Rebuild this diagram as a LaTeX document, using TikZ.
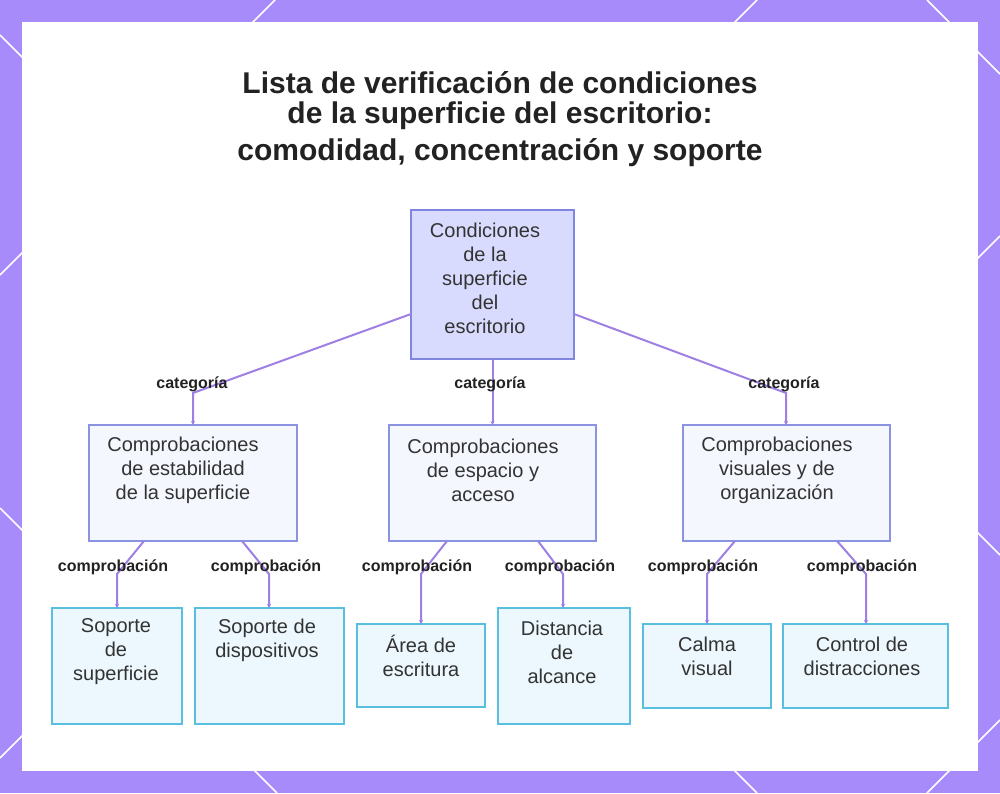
\documentclass[tikz,border=0pt]{standalone}
\usepackage{fontspec}
\setmainfont{Liberation Sans}
\usetikzlibrary{arrows.meta}
\definecolor{frame}{RGB}{167,139,250}
\definecolor{edgec}{RGB}{158,128,228}
\definecolor{rootfill}{RGB}{217,219,254}
\definecolor{rootdraw}{RGB}{128,134,224}
\definecolor{midfill}{RGB}{245,247,255}
\definecolor{middraw}{RGB}{140,146,226}
\definecolor{leaffill}{RGB}{236,248,254}
\definecolor{leafdraw}{RGB}{88,192,222}
\definecolor{txt}{RGB}{51,51,51}
\definecolor{ttl}{RGB}{34,34,34}
\tikzset{
  rootbox/.style={draw=rootdraw,fill=rootfill,line width=1.2pt},
  midbox/.style={draw=middraw,fill=midfill,line width=1.2pt},
  leafbox/.style={draw=leafdraw,fill=leaffill,line width=1.2pt},
  boxtxt/.style={text=txt,font=\fontsize{15pt}{18pt}\selectfont,align=center,inner sep=0pt},
  lbl/.style={text=ttl,font=\bfseries\fontsize{12pt}{14pt}\selectfont,inner sep=1pt},
  ttlline/.style={text=ttl,font=\bfseries\fontsize{22.5pt}{27pt}\selectfont,inner sep=0pt},
  conn/.style={draw=edgec,line width=1.5pt,-{Stealth[length=3pt,width=3pt]}},
  deco/.style={draw=white,line width=1.3pt}
}
\begin{document}
\begin{tikzpicture}[x=0.75pt,y=-0.75pt]
\useasboundingbox (0,0) rectangle (1000,793);
\fill[frame] (0,0) rectangle (1000,793);
% decorative lines in frame
\draw[deco] (0,35) -- (30,65);
\draw[deco] (0,275) -- (30,245);
\draw[deco] (0,508) -- (30,538);
\draw[deco] (0,758) -- (30,728);
\draw[deco] (275,0) -- (245,30);
\draw[deco] (757,0) -- (727,30);
\draw[deco] (927,0) -- (957,30);
\draw[deco] (1000,74) -- (970,44);
\draw[deco] (1000,236) -- (970,266);
\draw[deco] (1000,555) -- (970,525);
\draw[deco] (1000,720) -- (970,750);
\draw[deco] (277,793) -- (247,763);
\draw[deco] (757,793) -- (727,763);
\draw[deco] (927,793) -- (957,763);
\fill[white] (22,22) rectangle (978,771);

% title
\node[ttlline] (t1) at (500,83) {Lista de verificación de condiciones};
\node[ttlline] (t2) at (500,116) {de la superficie del escritorio:};
\node[ttlline] (t3) at (500,153) {comodidad, concentración y soporte};

% boxes
\draw[rootbox] (411,210) rectangle (574,359);
\node[minimum width=163*0.75pt,minimum height=149*0.75pt,inner sep=0pt] (root) at (492.5,284.5) {};
\node[boxtxt] (roottxt) at (485,278) {Condiciones\\de la\\superficie\\del\\escritorio};

\draw[midbox] (89,425) rectangle (297,541);
\node[minimum width=208*0.75pt,minimum height=116*0.75pt,inner sep=0pt] (m1) at (193,483) {};
\node[boxtxt] (m1t) at (183,470) {Comprobaciones\\de estabilidad\\de la superficie};

\draw[midbox] (389,425) rectangle (596,541);
\node[minimum width=207*0.75pt,minimum height=116*0.75pt,inner sep=0pt] (m2) at (492.5,483) {};
\node[boxtxt] (m2t) at (483,470) {Comprobaciones\\de espacio y\\acceso};

\draw[midbox] (683,425) rectangle (890,541);
\node[minimum width=207*0.75pt,minimum height=116*0.75pt,inner sep=0pt] (m3) at (786.5,483) {};
\node[boxtxt] (m3t) at (777,470) {Comprobaciones\\visuales y de\\organización};

\draw[leafbox] (52,608) rectangle (182,724);
\node[boxtxt] (l1) at (116,652) {Soporte\\de\\superficie};
\draw[leafbox] (195,608) rectangle (344,724);
\node[boxtxt] (l2) at (267,640) {Soporte de\\dispositivos};
\draw[leafbox] (357,624) rectangle (485,707);
\node[boxtxt] (l3) at (421,656) {Área de\\escritura};
\draw[leafbox] (498,608) rectangle (630,724);
\node[boxtxt] (l4) at (562,652) {Distancia\\de\\alcance};
\draw[leafbox] (643,624) rectangle (771,708);
\node[boxtxt] (l5) at (707,656) {Calma\\visual};
\draw[leafbox] (783,624) rectangle (948,708);
\node[boxtxt] (l6) at (862,656) {Control de\\distracciones};

% anchor coordinates
\coordinate (rL) at (411,314);
\coordinate (rB) at (492.5,359);
\coordinate (rR) at (574,314);
\coordinate (m1top) at (193,425);
\coordinate (m2top) at (492.5,425);
\coordinate (m3top) at (786,425);
\coordinate (l1top) at (117,608);
\coordinate (l2top) at (269,608);
\coordinate (l3top) at (421,624);
\coordinate (l4top) at (563,608);
\coordinate (l5top) at (707,624);
\coordinate (l6top) at (866,624);

% connectors
\draw[conn] (rL) -- (193,393) -- (m1top);
\draw[conn] (rB) -- (m2top);
\draw[conn] (rR) -- (786,393) -- (m3top);
\draw[conn] (144,541) -- (117,574) -- (l1top);
\draw[conn] (242,541) -- (269,574) -- (l2top);
\draw[conn] (447,541) -- (421,574) -- (l3top);
\draw[conn] (538,541) -- (563,574) -- (l4top);
\draw[conn] (735,541) -- (707,574) -- (l5top);
\draw[conn] (837,541) -- (866,574) -- (l6top);

% labels
\node[lbl] (c1) at (192,384) {categoría};
\node[lbl] (c2) at (490,384) {categoría};
\node[lbl] (c3) at (784,384) {categoría};
\node[lbl] (p1) at (113,567) {comprobación};
\node[lbl] (p2) at (266,567) {comprobación};
\node[lbl] (p3) at (417,567) {comprobación};
\node[lbl] (p4) at (560,567) {comprobación};
\node[lbl] (p5) at (703,567) {comprobación};
\node[lbl] (p6) at (862,567) {comprobación};
\end{tikzpicture}
\end{document}
